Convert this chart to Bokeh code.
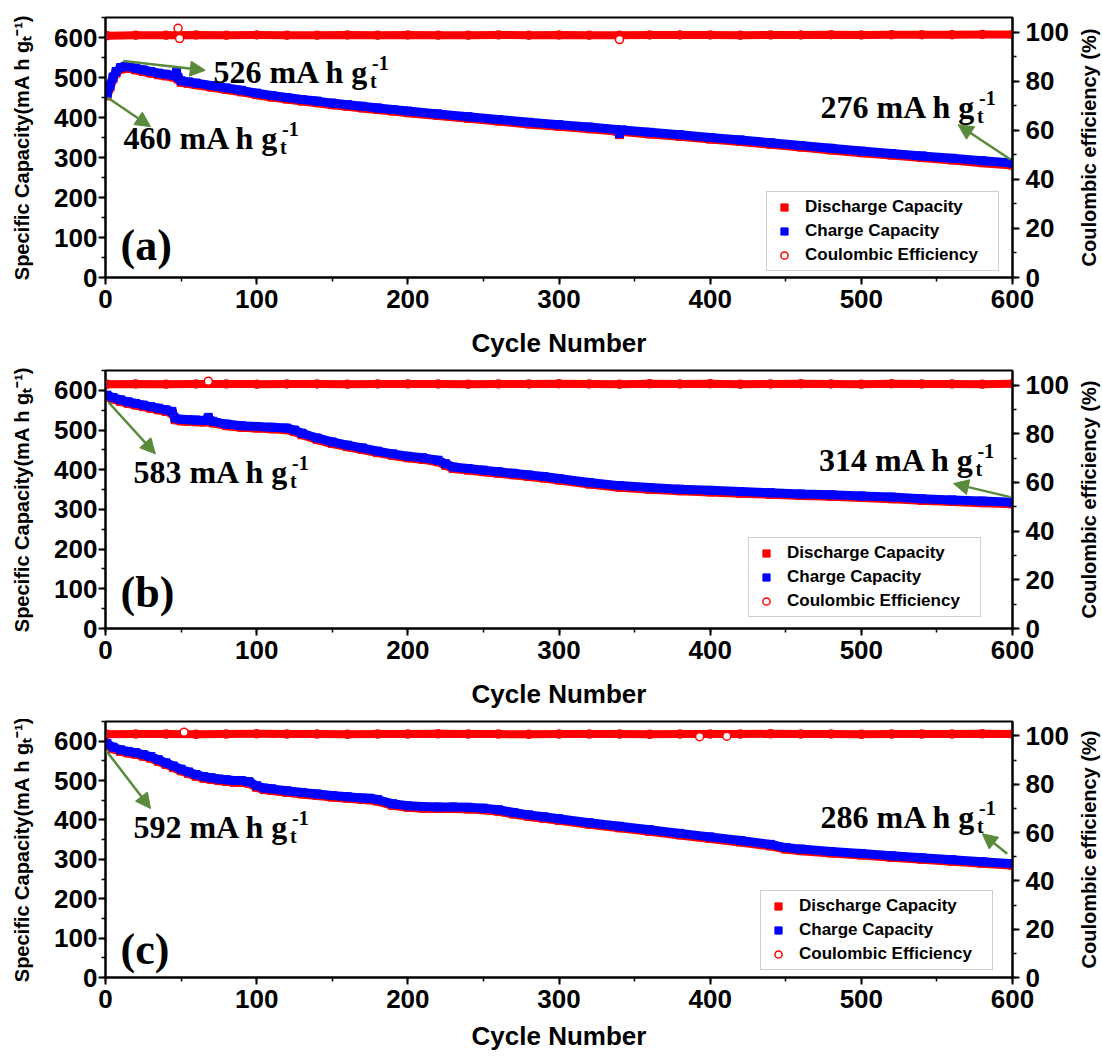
from bokeh.plotting import figure
from bokeh.models import (Range1d, LinearAxis, SingleIntervalTicker, Legend, LegendItem,
                          Arrow, NormalHead, Label)
from bokeh.layouts import column, row
from bokeh.embed import file_html
from bokeh.resources import INLINE

SANS = "Liberation Sans"
SERIF = "Liberation Serif"
RED = "#ff0000"
BLUE = "#0000ff"
GREEN = "#5a8b3c"

# ---------------- data ----------------
# panel (a)
cyc_a = [1, 3, 5, 7, 10, 13, 16, 20, 25, 30, 35, 40, 45, 47, 48, 50, 55, 60, 70, 80, 90,
         100, 110, 120, 130, 140, 150, 160, 170, 180, 190, 200, 220, 240, 260, 280, 300,
         320, 338, 340, 342, 360, 380, 400, 420, 440, 460, 480, 500, 520, 540, 560, 580, 600]
charge_a = [458, 480, 501, 515, 525, 528, 527, 523, 519, 515, 511, 508, 505, 513, 500, 492,
            489, 486, 480, 474, 468, 461, 455, 450, 445, 441, 436, 432, 428, 424, 420, 416,
            409, 402, 395, 388, 382, 376, 370, 360, 369, 363, 357, 350, 344, 337, 330, 323,
            316, 310, 304, 298, 292, 286]
discharge_a = [454, 476, 497, 511, 521, 524, 523, 519, 515, 511, 507, 504, 501, 508, 496, 488,
               485, 482, 476, 470, 464, 457, 451, 446, 441, 437, 432, 428, 424, 420, 416, 412,
               405, 398, 391, 384, 378, 372, 366, 357, 365, 359, 353, 346, 340, 333, 326, 319,
               312, 306, 300, 294, 287, 281]

# panel (b)
cyc_b = [1, 5, 10, 15, 20, 25, 30, 35, 40, 44, 46, 50, 55, 60, 65, 68, 71, 80, 90, 100, 110,
         120, 125, 130, 140, 150, 160, 170, 180, 190, 200, 210, 220, 225, 230, 240, 250, 260,
         270, 280, 290, 300, 320, 340, 360, 380, 400, 420, 440, 460, 480, 500, 520, 540, 560,
         580, 600]
charge_b = [588, 582, 576, 571, 567, 563, 559, 555, 551, 547, 530, 527, 526, 525, 524, 532,
            522, 515, 511, 509, 507, 505, 500, 492, 480, 470, 462, 455, 447, 440, 434, 430,
            424, 415, 407, 403, 399, 395, 391, 387, 383, 378, 368, 360, 355, 351, 348, 345,
            342, 339, 337, 334, 331, 327, 324, 321, 318]
discharge_b = [584, 578, 572, 567, 563, 559, 555, 551, 547, 543, 526, 523, 522, 521, 520, 527,
               518, 511, 507, 505, 503, 501, 496, 488, 476, 466, 458, 451, 443, 436, 430, 426,
               420, 411, 403, 399, 395, 391, 387, 383, 379, 374, 364, 356, 351, 347, 344, 341,
               338, 335, 333, 330, 327, 323, 320, 317, 314]

# panel (c)
cyc_c = [1, 5, 10, 15, 20, 25, 30, 35, 40, 45, 50, 55, 60, 65, 70, 75, 80, 85, 90, 95, 100,
         105, 110, 120, 130, 140, 150, 160, 170, 175, 180, 190, 200, 210, 220, 230, 240, 250,
         260, 270, 280, 290, 300, 320, 340, 360, 380, 400, 420, 440, 450, 460, 480, 500, 520,
         540, 560, 580, 600]
charge_c = [594, 585, 578, 574, 571, 566, 561, 553, 545, 537, 529, 522, 515, 510, 507, 504,
            502, 500, 500, 497, 487, 481, 479, 474, 470, 466, 462, 459, 456, 455, 452, 441,
            436, 434, 433, 433, 432, 430, 426, 419, 413, 408, 403, 393, 384, 375, 366, 357,
            348, 338, 330, 326, 320, 315, 309, 304, 299, 294, 289]
discharge_c = [591, 581, 574, 570, 567, 562, 557, 549, 541, 533, 525, 518, 511, 506, 503, 500,
               498, 496, 496, 493, 483, 477, 475, 470, 466, 462, 458, 455, 452, 451, 448, 437,
               432, 430, 429, 429, 428, 426, 422, 415, 409, 404, 399, 389, 380, 371, 362, 353,
               344, 334, 326, 322, 316, 311, 305, 300, 295, 290, 285]

# Coulombic efficiency (%), band values and isolated points
ce_cycles = [1, 20, 40, 60, 80, 100, 120, 140, 160, 180, 200, 220, 240, 260, 280, 300, 320,
             340, 360, 380, 400, 420, 440, 460, 480, 500, 520, 540, 560, 580, 600]
ce_a = [98.6, 98.8, 98.8, 98.9, 98.8, 98.9, 98.8, 98.8, 98.9, 98.8, 98.9, 98.8, 98.8, 98.9,
        98.8, 98.9, 98.8, 98.8, 98.9, 98.9, 98.9, 98.8, 98.9, 98.9, 99.0, 98.9, 99.0, 99.0,
        99.0, 99.1, 99.1]
ce_b = [100.4, 100.5, 100.4, 100.5, 100.5, 100.4, 100.5, 100.5, 100.4, 100.5, 100.5, 100.5,
        100.4, 100.5, 100.5, 100.6, 100.5, 100.4, 100.6, 100.5, 100.6, 100.4, 100.5, 100.6,
        100.5, 100.4, 100.6, 100.5, 100.5, 100.4, 100.6]
ce_c = [100.7, 100.8, 100.8, 100.7, 100.8, 100.9, 100.8, 100.8, 100.7, 100.8, 100.8, 100.9,
        100.8, 100.8, 100.7, 100.8, 100.8, 100.8, 100.7, 100.8, 100.8, 100.8, 100.9, 100.8,
        100.8, 100.7, 100.8, 100.8, 100.8, 100.9, 100.8]
ce_out_a_x = [48, 49, 340]
ce_out_a_y = [101.6, 97.4, 97.0]
ce_out_b_x = [68]
ce_out_b_y = [101.6]
ce_out_c_x = [52, 393, 411]
ce_out_c_y = [101.6, 99.7, 99.9]

# annotations: (arrow x0, y0, x1, y1, text x, text baseline y, value text)
notes_a = [(11.7, 541, 66, 518, 71.4, 514, "526"),
           (1.3, 450, 29.8, 377, 11.9, 350, "460"),
           (598.7, 295, 564, 382, 473, 426, "276")]
notes_b = [(2, 570, 33, 440, 18.5, 394, "583"),
           (598.7, 331, 561, 365, 472, 424, "314")]
notes_c = [(0.5, 576, 29.8, 429, 18.5, 383, "592"),
           (596.5, 314, 580, 365, 473, 408, "286")]

panel_letters = ["(a)", "(b)", "(c)"]
letter_baselines = [79, 91, 70]
x_ticks_interval = 100
legend_labels = ["Discharge Capacity", "Charge Capacity", "Coulombic Efficiency"]
right_title = "Coulombic efficiency (%)"

TB = {"0": .5, "1": .5, "2": .5, "3": .5, "4": .5, "5": .5, "6": .5, "7": .5, "8": .5,
      "9": .5, " ": .25, "m": .833, "A": .722, "h": .556, "g": .5}
NOTE_PX = 32
SUB_PX = 20


def text_width(s, size):
    return sum(TB.get(ch, .5) for ch in s) * size


def style_axis(ax, interval, standoff):
    ax.ticker = SingleIntervalTicker(interval=interval, num_minor_ticks=2)
    ax.axis_line_width = 2
    ax.axis_line_color = "black"
    ax.major_tick_line_width = 2
    ax.minor_tick_line_width = 1.5
    ax.major_tick_in = 0
    ax.major_tick_out = 7
    ax.minor_tick_in = 0
    ax.minor_tick_out = 4
    ax.major_label_text_font = SANS
    ax.major_label_text_font_style = "bold"
    ax.major_label_text_font_size = "26px"
    ax.major_label_text_color = "black"
    ax.major_label_standoff = standoff
    ax.axis_label_text_font = SANS
    ax.axis_label_text_font_style = "bold"
    ax.axis_label_text_color = "black"


def make_panel(cyc, chg, dis, ce, ox, oy, letter, letter_y, notes, legend_loc,
               top, frame_h, bottom, xlab_standoff):
    height = top + frame_h + bottom
    p = figure(width=1072, height=height, x_range=Range1d(0, 600), y_range=Range1d(0, 650),
               min_border_left=105, min_border_right=60, min_border_top=top,
               min_border_bottom=bottom, output_backend="svg", toolbar_location=None)
    p.extra_y_ranges = {"ce": Range1d(0, 106)}
    p.xgrid.visible = False
    p.ygrid.visible = False
    p.outline_line_color = "black"
    p.outline_line_width = 2
    p.outline_line_alpha = 1

    style_axis(p.xaxis[0], x_ticks_interval, 5)
    p.xaxis[0].axis_label = "Cycle Number"
    p.xaxis[0].axis_label_text_font_size = "26px"
    p.xaxis[0].axis_label_standoff = xlab_standoff
    style_axis(p.yaxis[0], 100, 1)
    p.yaxis[0].axis_label = "Specific Capacity(mA h gₜ⁻¹)"
    p.yaxis[0].axis_label_text_font_size = "20px"
    p.yaxis[0].axis_label_standoff = 18
    rax = LinearAxis(y_range_name="ce")
    style_axis(rax, 20, 6)
    p.add_layout(rax, "right")

    # capacity bands
    p.line(cyc, dis, line_color=RED, line_width=9)
    r_dis = p.scatter(cyc, dis, marker="square", size=8, color=RED)
    p.line(cyc, chg, line_color=BLUE, line_width=9)
    r_chg = p.scatter(cyc, chg, marker="square", size=8, color=BLUE)
    # coulombic efficiency
    p.line(ce_cycles, ce, line_color=RED, line_width=8, y_range_name="ce")
    r_ce = p.scatter(ce_cycles, ce, marker="circle", size=8, line_color=RED, line_width=1.5,
                     fill_color=None, y_range_name="ce")
    p.scatter(ox, oy, marker="circle", size=8, line_color=RED, line_width=1.5,
              fill_color="white", y_range_name="ce")

    # annotations
    for (x0, y0, x1, y1, tx, ty, val) in notes:
        p.add_layout(Arrow(x_start=x0, y_start=y0, x_end=x1, y_end=y1, line_color=GREEN,
                           line_width=2.5,
                           end=NormalHead(size=15, fill_color=GREEN, line_color=GREEN)))
        main = val + " mA h g"
        w = text_width(main, NOTE_PX)
        common = dict(text_font=SERIF, text_font_style="bold", text_color="black",
                      text_baseline="alphabetic", text_align="left")
        p.add_layout(Label(x=tx, y=ty, text=main, text_font_size=f"{NOTE_PX}px", **common))
        p.add_layout(Label(x=tx, y=ty, x_offset=w + 1, y_offset=-9, text="t",
                           text_font_size=f"{SUB_PX}px", **common))
        p.add_layout(Label(x=tx, y=ty, x_offset=w + 3, y_offset=9, text="-1",
                           text_font_size=f"{SUB_PX}px", **common))

    p.add_layout(Label(x=10, y=letter_y, text=letter, text_font=SERIF, text_font_style="bold",
                       text_font_size="44px", text_baseline="alphabetic", text_color="black"))

    legend = Legend(items=[LegendItem(label=legend_labels[0], renderers=[r_dis]),
                           LegendItem(label=legend_labels[1], renderers=[r_chg]),
                           LegendItem(label=legend_labels[2], renderers=[r_ce])],
                    location=legend_loc, border_line_color="#a0a0a0", border_line_width=1,
                    label_text_font=SANS, label_text_font_style="bold",
                    label_text_font_size="17px", label_text_color="black",
                    glyph_width=24, glyph_height=18, label_height=18, spacing=4,
                    padding=5, margin=0, label_standoff=9, label_width=188)
    p.add_layout(legend)

    # right-hand axis title, reading bottom to top, in a narrow strip beside the plot
    s = figure(width=30, height=height, x_range=Range1d(0, 30), y_range=Range1d(0, 106),
               min_border_left=0, min_border_right=0, min_border_top=top,
               min_border_bottom=bottom, output_backend="svg", toolbar_location=None)
    s.axis.visible = False
    s.xgrid.visible = False
    s.ygrid.visible = False
    s.outline_line_color = None
    s.add_layout(Label(x=16, y=53, text=right_title, angle=90, angle_units="deg",
                       text_align="center", text_baseline="middle", text_font=SANS,
                       text_font_style="bold", text_font_size="20px", text_color="black"))
    return row(p, s, spacing=0)


pa = make_panel(cyc_a, charge_a, discharge_a, ce_a, ce_out_a_x, ce_out_a_y,
                panel_letters[0], letter_baselines[0], notes_a, (661, 6), 17, 260, 91, 17)
pb = make_panel(cyc_b, charge_b, discharge_b, ce_b, ce_out_b_x, ce_out_b_y,
                panel_letters[1], letter_baselines[1], notes_b, (643, 11), 2, 258, 91, 17)
pc = make_panel(cyc_c, charge_c, discharge_c, ce_c, ce_out_c_x, ce_out_c_y,
                panel_letters[2], letter_baselines[2], notes_c, (655, 7), 2, 256, 84, 10)

layout = column(pa, pb, pc, spacing=0)
open("out.html", "w").write(file_html(layout, INLINE))
